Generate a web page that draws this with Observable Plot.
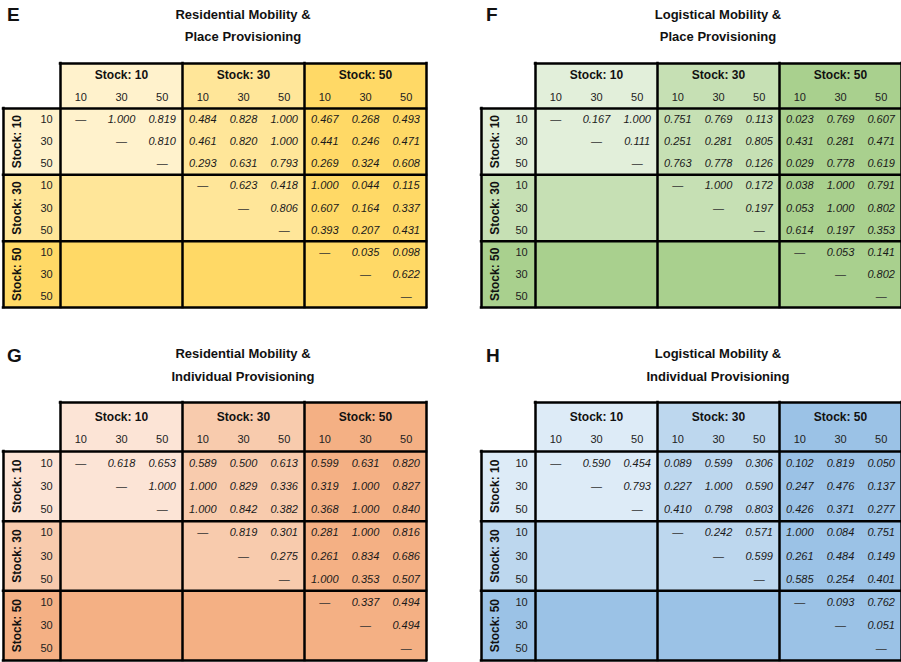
<!DOCTYPE html>
<html>
<head>
<meta charset="utf-8">
<script src="https://cdn.jsdelivr.net/npm/d3@7"></script>
<script src="https://cdn.jsdelivr.net/npm/@observablehq/plot@0.6"></script>
<style>
  html, body { margin: 0; padding: 0; background: #fff; overflow: hidden; }
  #page { position: relative; width: 901px; height: 662px; overflow: hidden;
          font-family: "Liberation Sans", Arial, Helvetica, sans-serif; color: #111; }
  .letter { position: absolute; font-size: 19px; font-weight: bold; line-height: 19px; }
  .title { position: absolute; font-size: 13px; font-weight: bold; text-align: center;
           transform: translateX(-50%); white-space: nowrap; }
  .chart { position: absolute; width: 445px; }
  .chart svg { max-width: none !important; }
</style>
</head>
<body>
<div id="page"></div>
<script>
// Stock levels used for both row and column groups
const stocks = [10, 30, 50];

// Upper-triangle p-values, one list per row (row r starts at column r + 1)
const residentialPlace = [
  [1.000, 0.819, 0.484, 0.828, 1.000, 0.467, 0.268, 0.493],
  [0.810, 0.461, 0.820, 1.000, 0.441, 0.246, 0.471],
  [0.293, 0.631, 0.793, 0.269, 0.324, 0.608],
  [0.623, 0.418, 1.000, 0.044, 0.115],
  [0.806, 0.607, 0.164, 0.337],
  [0.393, 0.207, 0.431],
  [0.035, 0.098],
  [0.622],
  []
];
const logisticalPlace = [
  [0.167, 1.000, 0.751, 0.769, 0.113, 0.023, 0.769, 0.607],
  [0.111, 0.251, 0.281, 0.805, 0.431, 0.281, 0.471],
  [0.763, 0.778, 0.126, 0.029, 0.778, 0.619],
  [1.000, 0.172, 0.038, 1.000, 0.791],
  [0.197, 0.053, 1.000, 0.802],
  [0.614, 0.197, 0.353],
  [0.053, 0.141],
  [0.802],
  []
];
const residentialIndividual = [
  [0.618, 0.653, 0.589, 0.500, 0.613, 0.599, 0.631, 0.820],
  [1.000, 1.000, 0.829, 0.336, 0.319, 1.000, 0.827],
  [1.000, 0.842, 0.382, 0.368, 1.000, 0.840],
  [0.819, 0.301, 0.281, 1.000, 0.816],
  [0.275, 0.261, 0.834, 0.686],
  [1.000, 0.353, 0.507],
  [0.337, 0.494],
  [0.494],
  []
];
const logisticalIndividual = [
  [0.590, 0.454, 0.089, 0.599, 0.306, 0.102, 0.819, 0.050],
  [0.793, 0.227, 1.000, 0.590, 0.247, 0.476, 0.137],
  [0.410, 0.798, 0.803, 0.426, 0.371, 0.277],
  [0.242, 0.571, 1.000, 0.084, 0.751],
  [0.599, 0.261, 0.484, 0.149],
  [0.585, 0.254, 0.401],
  [0.093, 0.762],
  [0.051],
  []
];

// Shading per stock level (light → dark)
const yellowShades = ["#FFF2CC", "#FFE699", "#FFD966"];
const greenShades  = ["#E2EFDA", "#C6E0B4", "#A9D08E"];
const orangeShades = ["#FCE4D6", "#F8CBAD", "#F4B084"];
const blueShades   = ["#DDEBF7", "#BDD7EE", "#9BC2E6"];

const panels = [
  { letter: "E", title: ["Residential Mobility &", "Place Provisioning"], values: residentialPlace, shades: yellowShades,
    left: 0, top: 50, xL: 3, x0: 60, x9: 426, yH: 63, y0: 108, y9: 307,
    letterX: 7, letterY: 5, titleY: 4, titleLH: 22 },
  { letter: "F", title: ["Logistical Mobility &", "Place Provisioning"], values: logisticalPlace, shades: greenShades,
    left: 476, top: 50, xL: 481, x0: 535, x9: 901, yH: 63, y0: 108, y9: 307,
    letterX: 486, letterY: 5, titleY: 4, titleLH: 22 },
  { letter: "G", title: ["Residential Mobility &", "Individual Provisioning"], values: residentialIndividual, shades: orangeShades,
    left: 0, top: 392, xL: 3, x0: 60, x9: 426, yH: 402, y0: 451, y9: 660,
    letterX: 7, letterY: 346, titleY: 342, titleLH: 23 },
  { letter: "H", title: ["Logistical Mobility &", "Individual Provisioning"], values: logisticalIndividual, shades: blueShades,
    left: 476, top: 392, xL: 481, x0: 535, x9: 901, yH: 402, y0: 451, y9: 660,
    letterX: 486, letterY: 346, titleY: 342, titleLH: 23 }
];

const fmt = d3.format(".3f");
const fontFamily = '"Liberation Sans", Arial, Helvetica, sans-serif';
const page = document.getElementById("page");

function drawPanel(p) {
  const colW = (p.x9 - p.x0) / 9;
  const rowH = (p.y9 - p.y0) / 9;
  const xStart = -(p.x0 - p.xL) / colW;   // row-header strip, in column units
  const hdr = (p.y0 - p.yH) / rowH;       // column-header strip, in row units

  const cells = [];
  p.values.forEach((row, r) => row.forEach((v, k) => cells.push({ r, c: r + 1 + k, v })));
  const diag = d3.range(9).map(i => ({ i }));

  const blocks = [];
  for (let rb = 0; rb < 3; rb++)
    for (let cb = 0; cb < 3; cb++)
      blocks.push({ x1: cb * 3, x2: cb * 3 + 3, y1: rb * 3, y2: rb * 3 + 3, level: Math.max(rb, cb) });
  const colHeads = stocks.map((s, i) => ({ x1: i * 3, x2: i * 3 + 3, y1: -hdr, y2: 0, level: i, label: `Stock: ${s}` }));
  const rowHeads = stocks.map((s, i) => ({ x1: xStart, x2: 0, y1: i * 3, y2: i * 3 + 3, level: i, label: `Stock: ${s}` }));
  const sub = d3.range(9).map(i => ({ i, label: String(stocks[i % 3]) }));

  // Grid borders
  const hLines = [{ y: -hdr, x1: 0, x2: 9 }, ...[0, 3, 6, 9].map(y => ({ y, x1: xStart, x2: 9 }))];
  const vLines = [{ x: xStart, y1: 0, y2: 9 }, ...[0, 3, 6, 9].map(x => ({ x, y1: -hdr, y2: 9 }))];

  const width = 445;
  const height = (p.y9 - p.top) + 6;

  const chart = Plot.plot({
    width, height,
    marginTop: 0, marginRight: 0, marginBottom: 0, marginLeft: 0,
    x: { domain: [xStart, 9], range: [p.xL - p.left, p.x9 - p.left], axis: null },
    y: { domain: [-hdr, 9], range: [p.yH - p.top, p.y9 - p.top], axis: null },
    color: { type: "ordinal", domain: [0, 1, 2], range: p.shades },
    style: { fontFamily, background: "transparent", overflow: "visible", maxWidth: "none" },
    marks: [
      Plot.rect([...blocks, ...colHeads, ...rowHeads], { x1: "x1", x2: "x2", y1: "y1", y2: "y2", fill: "level" }),
      Plot.text(colHeads, { x: d => (d.x1 + d.x2) / 2, y: () => -1.5, text: "label",
        fontWeight: "bold", fontSize: 12, fill: "#111" }),
      Plot.text(sub, { x: d => d.i + 0.5, y: () => -0.5, text: "label", fontSize: 11, fill: "#222" }),
      Plot.text(rowHeads, { x: () => xStart + 13.5 / colW, y: d => (d.y1 + d.y2) / 2, text: "label",
        rotate: -90, fontWeight: "bold", fontSize: 12, fill: "#111" }),
      Plot.text(sub, { x: () => -14 / colW, y: d => d.i + 0.5, text: "label", fontSize: 11, fill: "#222" }),
      Plot.text(cells, { x: d => d.c + 0.5, y: d => d.r + 0.5, text: d => fmt(d.v),
        fontStyle: "italic", fontSize: 11, fill: "#1a1a1a" }),
      Plot.text(diag, { x: d => d.i + 0.5, y: d => d.i + 0.5, text: () => "—", fontSize: 11, fill: "#333" }),
      Plot.ruleY(hLines, { y: "y", x1: "x1", x2: "x2", stroke: "#000", strokeWidth: 2.5, strokeLinecap: "square" }),
      Plot.ruleX(vLines, { x: "x", y1: "y1", y2: "y2", stroke: "#000", strokeWidth: 2.5, strokeLinecap: "square" })
    ]
  });

  const holder = document.createElement("div");
  holder.className = "chart";
  holder.style.left = p.left + "px";
  holder.style.top = p.top + "px";
  holder.appendChild(chart);
  page.appendChild(holder);

  const letter = document.createElement("div");
  letter.className = "letter";
  letter.textContent = p.letter;
  letter.style.left = p.letterX + "px";
  letter.style.top = p.letterY + "px";
  page.appendChild(letter);

  p.title.forEach((line, k) => {
    const t = document.createElement("div");
    t.className = "title";
    t.textContent = line;
    t.style.left = ((p.x0 + p.x9) / 2) + "px";
    t.style.top = (p.titleY + k * p.titleLH) + "px";
    t.style.lineHeight = p.titleLH + "px";
    page.appendChild(t);
  });
}

panels.forEach(drawPanel);
</script>
</body>
</html>
